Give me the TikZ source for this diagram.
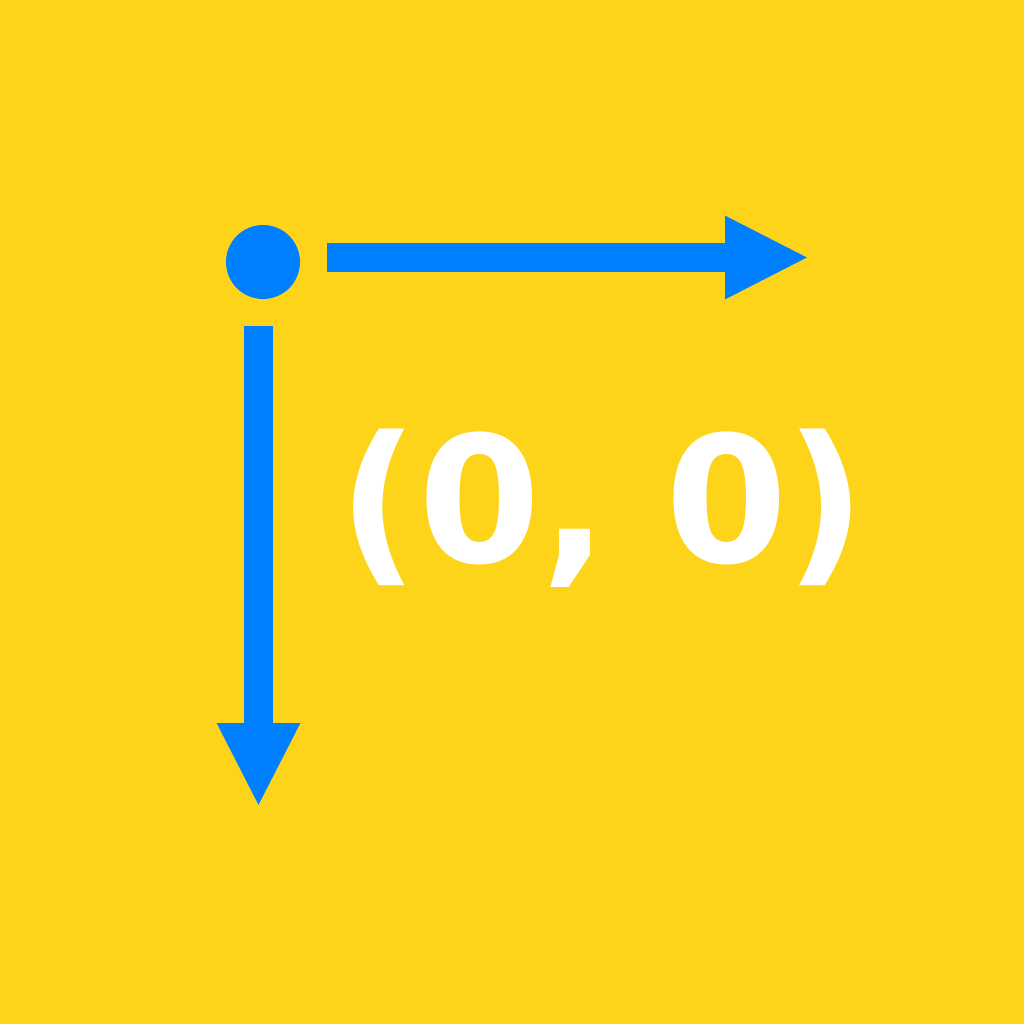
\documentclass[tikz,border=0pt]{standalone}
\usepackage{fontspec}
\setmainfont{DejaVu Sans}
\usetikzlibrary{arrows.meta}
\definecolor{bgyellow}{RGB}{254,212,26}
\definecolor{axisblue}{RGB}{0,128,255}
\begin{document}
\begin{tikzpicture}[x=1pt,y=-1pt,
  axis/.style={draw=axisblue,line width=29pt,line cap=butt,-{Triangle[width=77pt,length=84pt]}}]
\fill[bgyellow] (0,0) rectangle (1024,1024);
\useasboundingbox (0,0) rectangle (1024,1024);
\node[circle,fill=axisblue,minimum size=74pt,inner sep=0pt] (origin) at (263,262) {};
\coordinate (hs) at (327,257.5);
\coordinate (he) at (809,257.5);
\coordinate (vs) at (258.5,326);
\coordinate (ve) at (258.5,807);
\draw[axis] (hs) -- (he);
\draw[axis] (vs) -- (ve);
\node[text=white,font=\fontsize{176}{176}\selectfont\bfseries,anchor=base,inner sep=0pt] (label) at (602,562) {(0,\kern-4pt{} 0\kern-3pt)};
\end{tikzpicture}
\end{document}
